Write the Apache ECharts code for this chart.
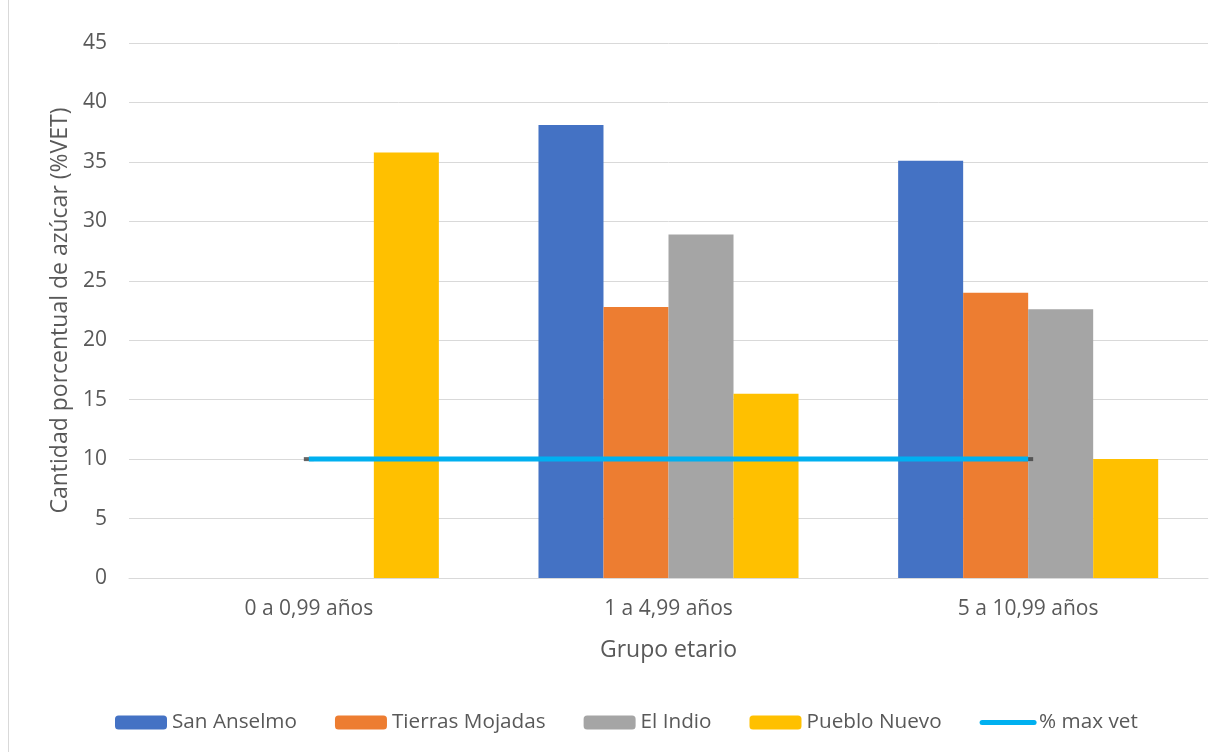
<!DOCTYPE html>
<html>
<head>
<meta charset="utf-8">
<script src="https://cdn.jsdelivr.net/npm/echarts@6/dist/echarts.min.js"></script>
<style>
html,body{margin:0;padding:0;background:#fff;}
#c{width:1227px;height:752px;}
</style>
</head>
<body>
<div id="c"></div>
<script>
const categories = ['0 a 0,99 años', '1 a 4,99 años', '5 a 10,99 años'];
const sanAnselmo = [null, 38.1, 35.1];
const tierrasMojadas = [null, 22.8, 24.0];
const elIndio = [null, 28.9, 22.6];
const puebloNuevo = [35.8, 15.5, 10.0];
const maxVet = [10, 10, 10];
const yTicks = {min: 0, max: 45, interval: 5};

const FONT = '"Open Sans", sans-serif';
const TXT = '#595959';

const chart = echarts.init(document.getElementById('c'), null, {renderer: 'canvas'});
function bar(name, data, color) {
  return {
    name, type: 'bar', data, barGap: '0%', barCategoryGap: '27.7%',
    itemStyle: {color}, z: 2
  };
}
chart.setOption({
  animation: false,
  textStyle: {fontFamily: FONT},
  graphic: [{
    type: 'rect', shape: {x: 8.5, y: -10, width: 1240, height: 800},
    style: {fill: 'none', stroke: '#D9D9D9', lineWidth: 1}, silent: true
  }],
  grid: {left: 129, right: 19, top: 43, bottom: 174, containLabel: false},
  xAxis: {
    type: 'category', data: categories,
    name: 'Grupo etario', nameLocation: 'middle', nameGap: 61,
    nameTextStyle: {color: TXT, fontSize: 23, fontFamily: FONT},
    axisLine: {lineStyle: {color: '#D9D9D9', width: 1}},
    axisTick: {show: false},
    axisLabel: {color: TXT, fontSize: 21, margin: 21, fontFamily: FONT}
  },
  yAxis: {
    type: 'value', min: yTicks.min, max: yTicks.max, interval: yTicks.interval,
    name: 'Cantidad porcentual de azúcar (%VET)', nameLocation: 'middle', nameGap: 54,
    nameTextStyle: {color: TXT, fontSize: 23, fontFamily: FONT},
    axisLine: {show: false}, axisTick: {show: false},
    axisLabel: {color: TXT, fontSize: 21, margin: 22, fontFamily: FONT},
    splitLine: {lineStyle: {color: '#D9D9D9', width: 1}}
  },
  legend: {
    left: 110, top: 707, itemWidth: 52, itemHeight: 14, itemGap: 38,
    textStyle: {color: TXT, fontSize: 20.7, fontFamily: FONT},
    data: ['San Anselmo', 'Tierras Mojadas', 'El Indio', 'Pueblo Nuevo',
      {name: '% max vet', itemStyle: {opacity: 0}, lineStyle: {width: 5, cap: 'round', color: '#00B0F0'}}]
  },
  series: [
    bar('San Anselmo', sanAnselmo, '#4472C4'),
    bar('Tierras Mojadas', tierrasMojadas, '#ED7D31'),
    bar('El Indio', elIndio, '#A5A5A5'),
    bar('Pueblo Nuevo', puebloNuevo, '#FFC000'),
    {
      name: '% max vet', type: 'line', data: maxVet,
      symbol: 'none', z: 5,
      lineStyle: {color: '#00B0F0', width: 5, cap: 'butt'},
      itemStyle: {color: '#00B0F0'}
    },
    {
      name: 'marks', type: 'scatter', data: [[0, maxVet[0]], [2, maxVet[2]]],
      symbol: 'rect', symbolSize: [10, 4], z: 4,
      itemStyle: {color: '#404040'}, silent: true
    }
  ]
});
</script>
</body>
</html>
